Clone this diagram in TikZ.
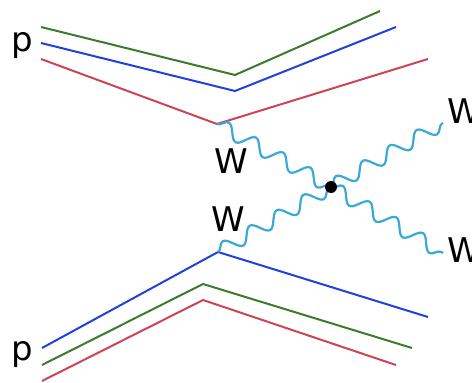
\documentclass[tikz,border=0pt]{standalone}
\usepackage{fontspec}
\setmainfont{DejaVu Sans}
\usepackage{xcolor}
\usepackage{tikz}
\usetikzlibrary{positioning, decorations.pathmorphing}

\definecolor{qgreen}{HTML}{3D7A2C}
\definecolor{qblue}{HTML}{2140DC}
\definecolor{qred}{HTML}{CC4455}
\definecolor{wcyan}{HTML}{3AA8D8}

\begin{document}
\begin{tikzpicture}[x=1pt, y=-1pt,
    quark/.style={line width=2pt, draw=#1},
    boson/.style={decorate, line width=2.2pt, draw=wcyan,
                  decoration={snake, segment length=31pt, amplitude=7pt}},
    lbl/.style={font=\fontsize{34}{40}\selectfont, inner sep=0pt},
    vtx/.style={circle, fill=black, inner sep=0pt, minimum size=12pt}
  ]
  \useasboundingbox (0,0) rectangle (472,383);

  % upper proton
  \coordinate (gT1) at (41,27);  \coordinate (gTv) at (235,75);  \coordinate (gT2) at (380,11);
  \coordinate (bT1) at (41,43);  \coordinate (bTv) at (235,91);  \coordinate (bT2) at (396,27);
  \coordinate (rT1) at (41,59);  \coordinate (rTv) at (217,124); \coordinate (rT2) at (428,59);
  % lower proton
  \coordinate (bB1) at (42,348); \coordinate (bBv) at (218,252); \coordinate (bB2) at (428,317);
  \coordinate (gB1) at (42,365); \coordinate (gBv) at (203,284); \coordinate (gB2) at (412,348);
  \coordinate (rB1) at (42,381); \coordinate (rBv) at (203,300); \coordinate (rB2) at (396,365);

  \draw[quark=qgreen] (gT1) -- (gTv) -- (gT2);
  \draw[quark=qblue]  (bT1) -- (bTv) -- (bT2);
  \draw[quark=qred]   (rT1) -- (rTv) -- (rT2);
  \draw[quark=qblue]  (bB1) -- (bBv) -- (bB2);
  \draw[quark=qgreen] (gB1) -- (gBv) -- (gB2);
  \draw[quark=qred]   (rB1) -- (rBv) -- (rB2);

  % W scattering
  \coordinate (v)  at (331,187);
  \coordinate (w1) at (443,123);
  \coordinate (w2) at (443,253);
  \draw[boson] (rTv) -- (v);
  \draw[boson] (bBv) -- (v);
  \draw[boson] (v) -- (w1);
  \draw[boson] (v) -- (w2);
  \node[vtx] (dot) at (v) {};

  \node[lbl] (pT) at (22,46)  {p};
  \node[lbl] (pB) at (22,355) {p};
  \node[lbl] (wT) at (231,161) {W};
  \node[lbl] (wB) at (228,219) {W};
  \node[lbl, anchor=west] (wTR) at (447,111) {W};
  \node[lbl, anchor=west] (wBR) at (447,250) {W};
\end{tikzpicture}
\end{document}
